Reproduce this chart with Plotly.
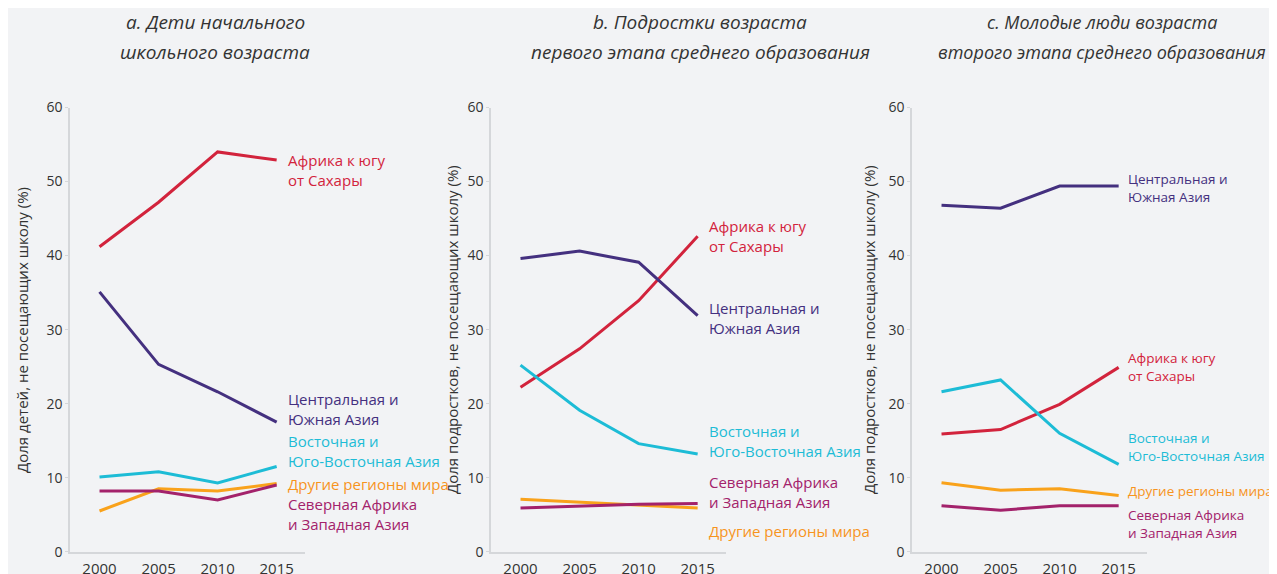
import plotly.graph_objects as go

years = [2000, 2005, 2010, 2015]

regions = [
    "Африка к югу<br>от Сахары",
    "Центральная и<br>Южная Азия",
    "Восточная и<br>Юго-Восточная Азия",
    "Другие регионы мира",
    "Северная Африка<br>и Западная Азия",
]
colors = ["#d2233c", "#44307f", "#1dbcd6", "#f9a21b", "#a3226b"]
label_colors = ["#d2233c", "#44307f", "#1dbcd6", "#f7941d", "#a3226b"]

# panel a: primary school age children
a_ssa = [41.2, 47.2, 54.0, 52.9]
a_csa = [35.1, 25.3, 21.6, 17.5]
a_esea = [10.1, 10.8, 9.3, 11.5]
a_other = [5.5, 8.5, 8.2, 9.2]
a_nawa = [8.2, 8.2, 7.0, 9.0]

# panel b: lower secondary
b_ssa = [22.2, 27.4, 33.9, 42.6]
b_csa = [39.6, 40.6, 39.1, 31.9]
b_esea = [25.2, 19.1, 14.6, 13.2]
b_other = [7.1, 6.7, 6.4, 5.9]
b_nawa = [5.9, 6.2, 6.4, 6.5]

# panel c: upper secondary
c_ssa = [15.9, 16.5, 19.9, 24.9]
c_csa = [46.8, 46.4, 49.4, 49.4]
c_esea = [21.6, 23.2, 16.0, 11.8]
c_other = [9.3, 8.3, 8.5, 7.6]
c_nawa = [6.2, 5.6, 6.2, 6.2]

panel_titles = [
    ["a. Дети начального", "школьного возраста"],
    ["b. Подростки возраста", "первого этапа среднего образования"],
    ["c. Молодые люди возраста", "второго этапа среднего образования"],
]
y_titles = [
    "Доля детей, не посещающих школу (%)",
    "Доля подростков, не посещающих школу (%)",
    "Доля подростков, не посещающих школу (%)",
]
y_ticks = [0, 10, 20, 30, 40, 50, 60]
x_ticks = [2000, 2005, 2010, 2015]

panels = [
    [a_ssa, a_csa, a_esea, a_other, a_nawa],
    [b_ssa, b_csa, b_esea, b_other, b_nawa],
    [c_ssa, c_csa, c_esea, c_other, c_nawa],
]

# layout: label block positions (value units) per panel, in region order
label_pos = [
    [51.6, 19.3, 13.6, 9.2, 5.1],
    [42.7, 31.6, 15.0, 2.8, 8.1],
    [24.9, 49.1, 14.2, 8.2, 3.8],
]
label_x = [2015.75, 2015.75, 2015.65]
label_size = [15, 15, 13.5]

# page body has an 8px margin: offset the figure coordinates accordingly
OFF = 8
W, H = 1277 - 2 * OFF, 574 - OFF


def px(v):
    return v - OFF


x_px = [(70, 305), (491, 726), (912, 1147)]
ytitle_px = [22, 452, 869]
title_px = [215, 700, 1102]
title_size = [19, 19, 18]
title_line_y = [22, 52]
y_dom = [1 - px(551.7) / H, 1 - px(107.5) / H]

FONT = "Open Sans"
TXT = "#333333"
AX = "#d5d7da"

fig = go.Figure()
annotations = []
for i, series in enumerate(panels):
    xa = "x" if i == 0 else f"x{i+1}"
    ya = "y" if i == 0 else f"y{i+1}"
    for j, vals in enumerate(series):
        fig.add_trace(go.Scatter(
            x=years, y=vals, mode="lines", xaxis=xa, yaxis=ya,
            line=dict(color=colors[j], width=3), showlegend=False,
            hoverinfo="skip",
        ))
        annotations.append(dict(
            x=label_x[i], y=label_pos[i][j], xref=xa, yref=ya,
            text=regions[j], showarrow=False, xanchor="left", yanchor="middle",
            align="left",
            font=dict(family=FONT, size=label_size[i], color=label_colors[j]),
        ))
    annotations.append(dict(
        x=px(ytitle_px[i]) / W, y=1 - px(330) / H, xref="paper", yref="paper",
        text=y_titles[i], textangle=-90, showarrow=False,
        xanchor="center", yanchor="middle",
        font=dict(family=FONT, size=15, color=TXT),
    ))
    for k, line in enumerate(panel_titles[i]):
        annotations.append(dict(
            x=px(title_px[i]) / W, y=1 - px(title_line_y[k]) / H,
            xref="paper", yref="paper",
            text="<i>" + line + "</i>", showarrow=False,
            xanchor="center", yanchor="middle", align="center",
            font=dict(family=FONT, size=title_size[i], color=TXT),
        ))
    xkey = "xaxis" if i == 0 else f"xaxis{i+1}"
    ykey = "yaxis" if i == 0 else f"yaxis{i+1}"
    fig.update_layout(**{
        xkey: dict(
            domain=[px(x_px[i][0]) / W, px(x_px[i][1]) / W],
            range=[1997.5, 2017.4], automargin=False,
            anchor=ya, tickvals=x_ticks, showgrid=False, zeroline=False,
            showline=True, linecolor=AX, linewidth=1.5, ticks="",
            tickfont=dict(family=FONT, size=15, color=TXT), ticklabelstandoff=3,
        ),
        ykey: dict(
            domain=y_dom, range=[0, 60], anchor=xa, tickvals=y_ticks,
            automargin=False,
            showgrid=False, zeroline=False, showline=True, linecolor=AX,
            linewidth=1.5, ticks="outside", ticklen=3, tickcolor=AX,
            tickfont=dict(family=FONT, size=14, color=TXT),
        ),
    })

fig.update_layout(
    template="none",
    width=W, height=H, margin=dict(l=0, r=0, t=0, b=0, autoexpand=False),
    paper_bgcolor="#f2f3f5", plot_bgcolor="#f2f3f5",
    annotations=annotations,
)

fig.write_html("out.html")
